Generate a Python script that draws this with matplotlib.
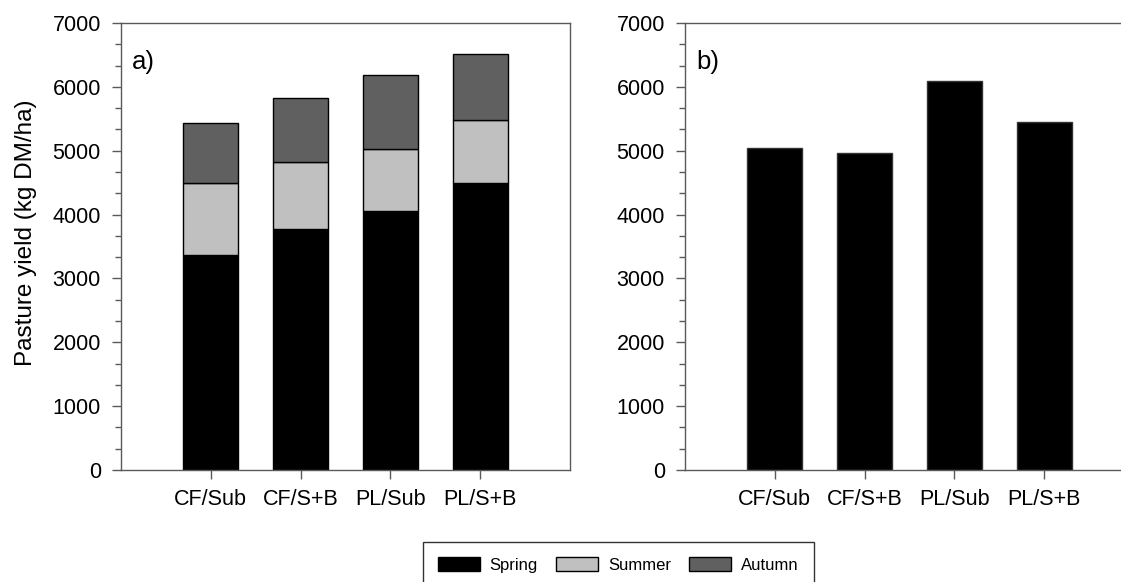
import matplotlib
matplotlib.use("Agg")
import matplotlib.pyplot as plt
from matplotlib.ticker import MultipleLocator
from matplotlib.patches import Patch

plt.rcParams['font.family'] = ['Liberation Sans', 'DejaVu Sans']

categories = ["CF/Sub", "CF/S+B", "PL/Sub", "PL/S+B"]
spring = [3370, 3780, 4060, 4500]
summer = [1120, 1050, 960, 980]
autumn = [940, 990, 1160, 1030]
total_b = [5040, 4960, 6090, 5450]

season_names = ["Spring", "Summer", "Autumn"]
season_colors = ["#000000", "#c0c0c0", "#606060"]

W, H = 1121, 582
fig = plt.figure(figsize=(W / 100, H / 100), dpi=100)

def px_axes(left, top, right, bottom):
    return fig.add_axes([left / W, 1 - bottom / H, (right - left) / W, (bottom - top) / H])

ax1 = px_axes(121, 23, 570, 470)
ax2 = px_axes(685, 23, 1134, 470)

x = list(range(1, len(categories) + 1))
spine_col = "#5a5a5a"

# panel a: stacked
bottom = [0] * len(x)
for vals, name, col in zip([spring, summer, autumn], season_names, season_colors):
    ax1.bar(x, vals, width=0.61, bottom=bottom, color=col, edgecolor="#000000",
            linewidth=1.0, label=name)
    bottom = [b + v for b, v in zip(bottom, vals)]

# panel b
ax2.bar(x, total_b, width=0.61, color="#000000", edgecolor="#333333", linewidth=1.0)

for ax, lab in [(ax1, "a)"), (ax2, "b)")]:
    ax.set_xlim(0, 5)
    ax.set_ylim(0, 7000)
    ax.set_xticks(x)
    ax.set_xticklabels(categories, fontsize=15.5)
    ax.yaxis.set_major_locator(MultipleLocator(1000))
    ax.yaxis.set_minor_locator(MultipleLocator(1000 / 3))
    ax.tick_params(axis="y", which="major", direction="out", length=6.5, width=1,
                   color=spine_col, labelsize=15.5, pad=8)
    ax.tick_params(axis="y", which="minor", direction="out", length=4, width=1,
                   color=spine_col)
    ax.tick_params(axis="x", which="major", direction="out", length=6.5, width=1,
                   color=spine_col, labelsize=15.5, pad=7)
    for s in ax.spines.values():
        s.set_color(spine_col)
        s.set_linewidth(1.0)
    ax.text(0.025, 0.94, lab, transform=ax.transAxes, fontsize=18.5,
            ha="left", va="top")

ax1.set_ylabel("Pasture yield (kg DM/ha)", fontsize=17.5)
ax1.yaxis.set_label_coords(-0.187, 0.53)

handles = [Patch(facecolor=c, edgecolor="#000000", linewidth=1.0) for c in season_colors]
leg = fig.legend(handles, season_names, loc="upper left",
                 bbox_to_anchor=(423 / W, 1 - 542 / H), ncol=3, fontsize=12,
                 frameon=True, fancybox=False, handlelength=2.5, handleheight=0.9,
                 handletextpad=0.6, columnspacing=1.1, borderpad=0.9,
                 borderaxespad=0)
leg.get_frame().set_edgecolor("#000000")
leg.get_frame().set_linewidth(1.0)

fig.savefig("out.png", dpi=100)
